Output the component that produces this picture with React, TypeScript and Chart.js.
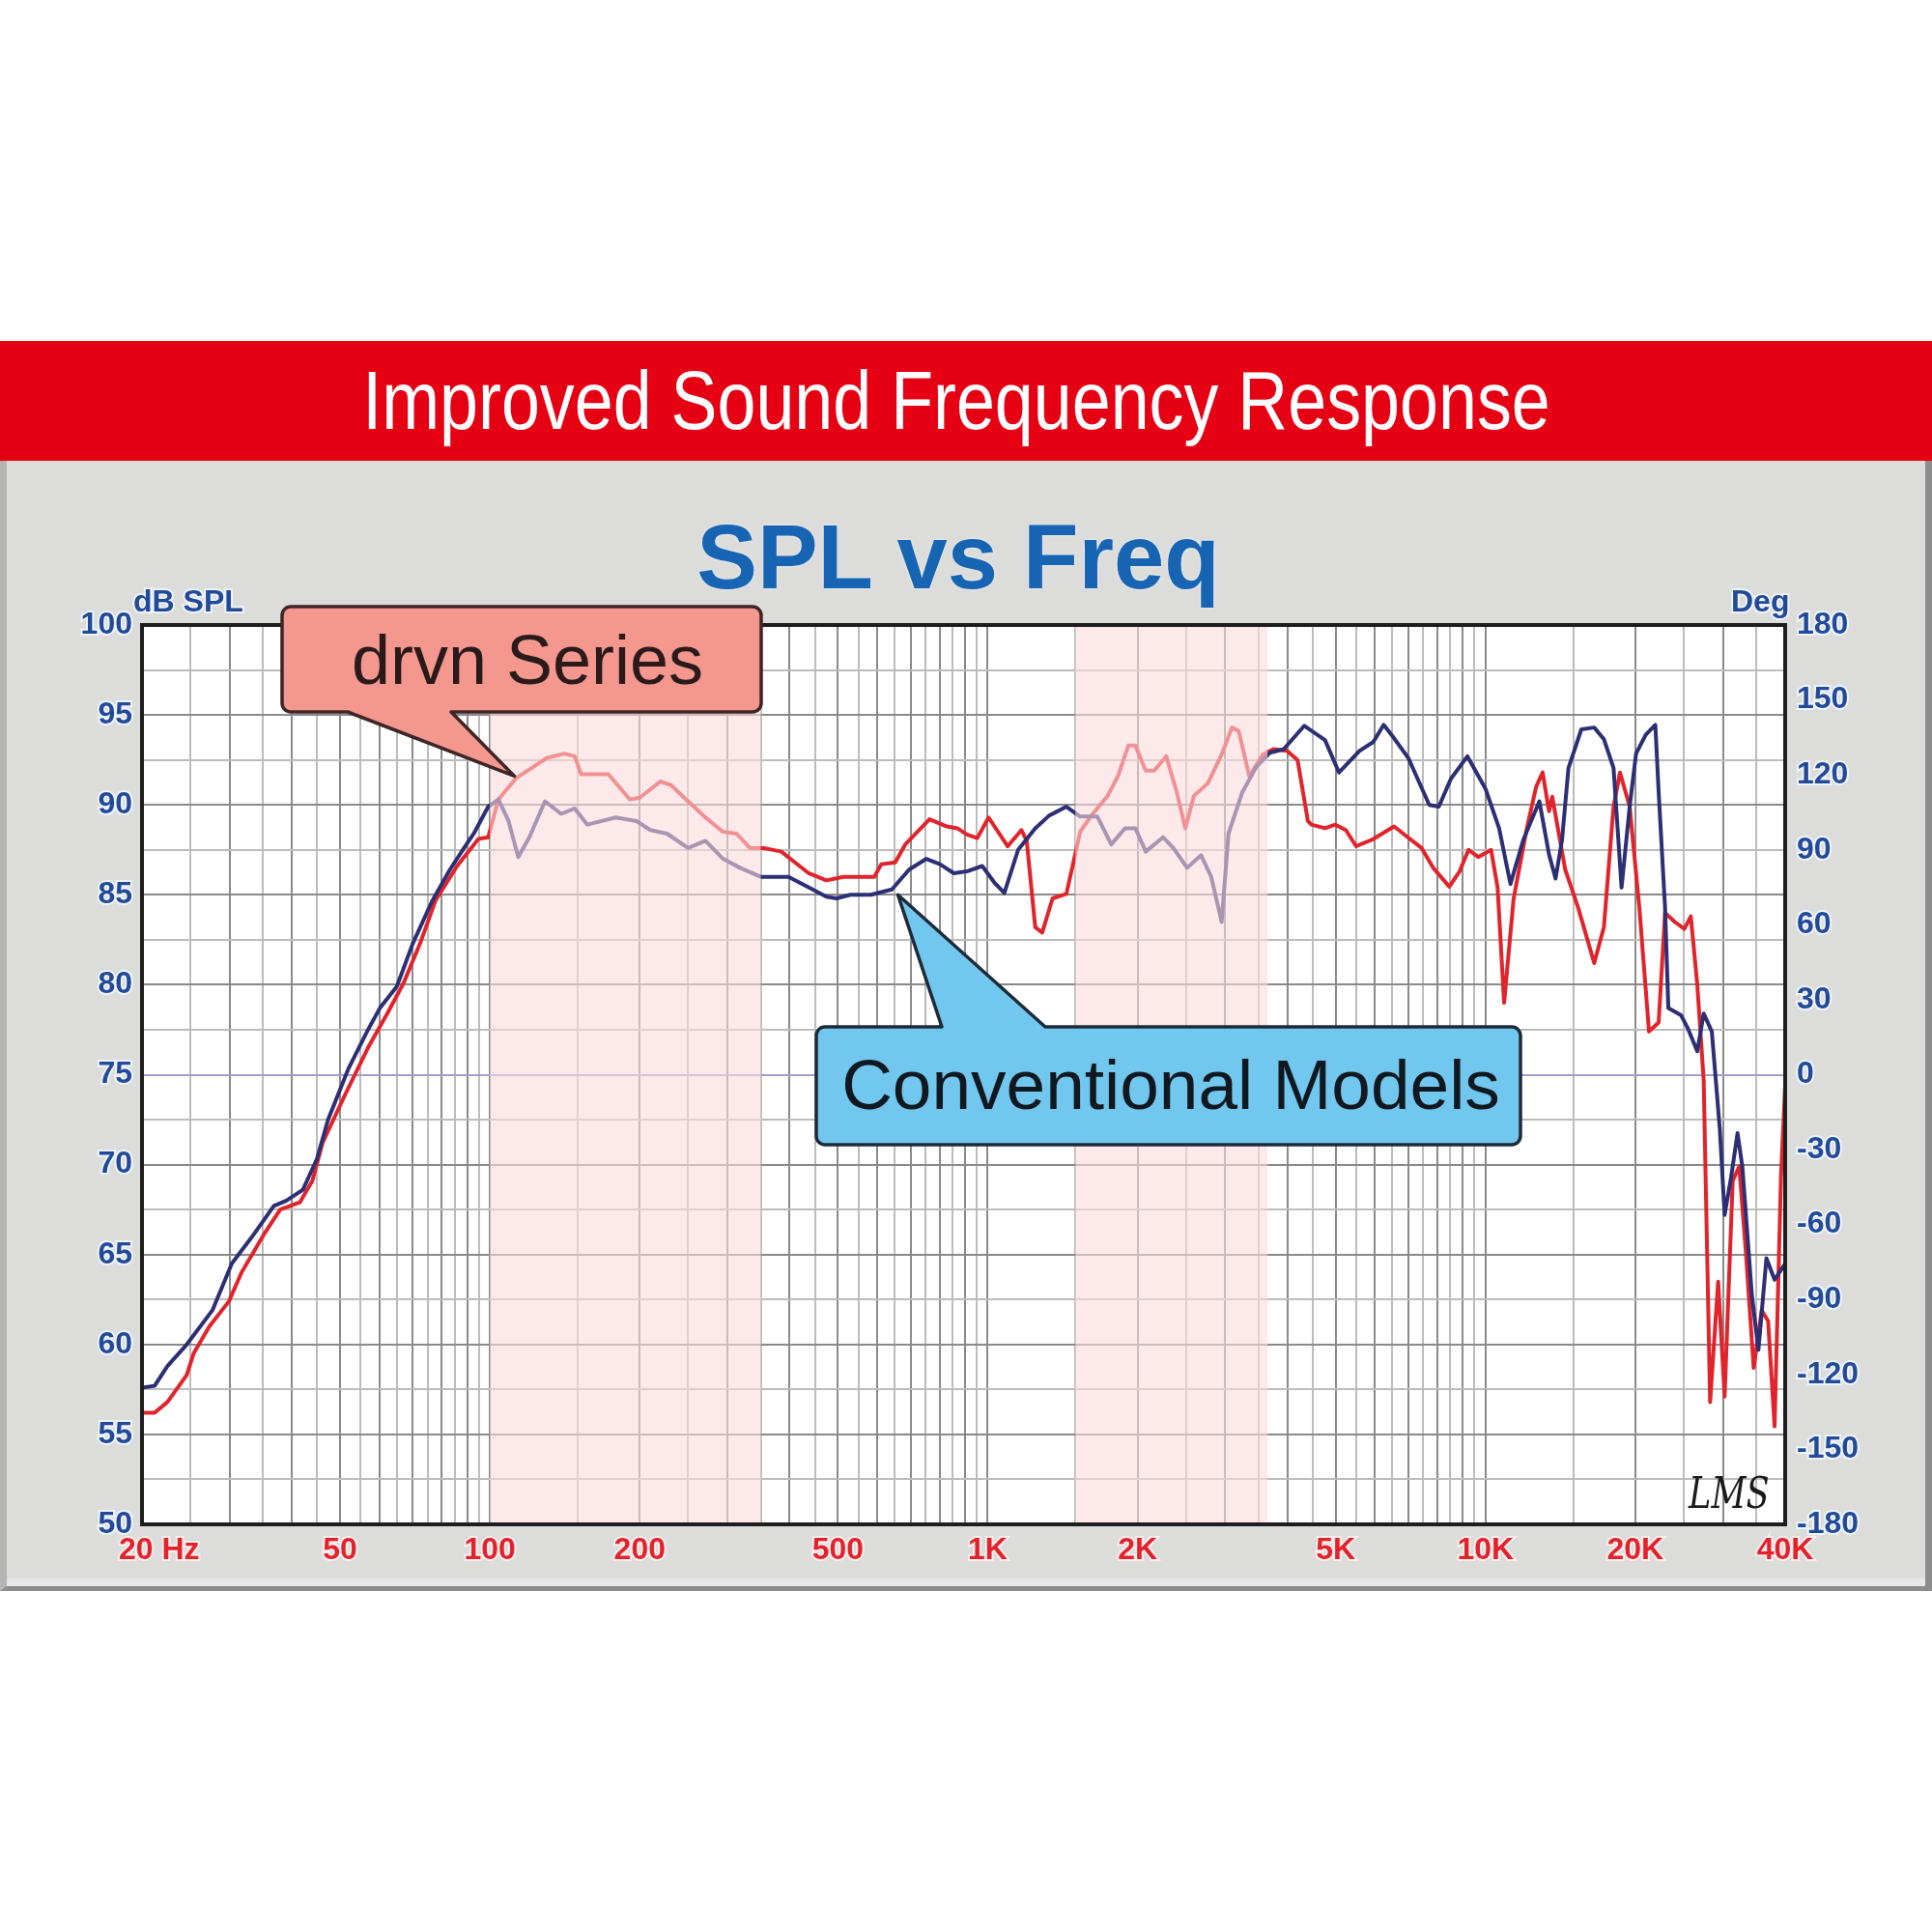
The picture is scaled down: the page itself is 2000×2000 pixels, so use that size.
import { Chart, registerables } from 'chart.js'
import { useEffect, useRef } from 'react'

Chart.register(...registerables)

// x axis labels (log frequency)
const xTickValues = [20, 50, 100, 200, 500, 1000, 2000, 5000, 10000, 20000, 40000]
const xTickLabels = ['20 Hz', '50', '100', '200', '500', '1K', '2K', '5K', '10K', '20K', '40K']

// shaded frequency bands (Hz)
const bandStart = [100, 1500]
const bandEnd = [350, 3650]

// drvn Series (red)
const drvnFreq = [
	20, 21.2, 22.5, 24.6, 25.4, 27.3, 29.9, 31.7, 35.3, 37.9,
	41.5, 44, 46.1, 51.2, 56.9, 62.2, 67.1, 72.4, 77.8, 85.9,
	94.8, 99.2, 104, 113, 122, 130, 141, 148, 152.5, 173,
	191, 200, 220, 231, 250, 271, 294, 313, 333, 355,
	385, 410, 437, 474, 513, 556, 592, 611, 652, 683,
	764, 828, 869, 908, 953, 1004, 1097, 1169, 1198, 1246,
	1287, 1350, 1439, 1534, 1609, 1742, 1827, 1917, 1980, 2077,
	2160, 2284, 2398, 2494, 2596, 2768, 2951, 3095, 3194, 3353,
	3572, 3749, 3993, 4192, 4398, 4470, 4760, 4994, 5241, 5498,
	5954, 6554, 6980, 7444, 7850, 8459, 8872, 9247, 9669, 10262,
	10578, 10900, 11393, 12088, 12640, 13025, 13417, 13620, 14463, 15348,
	16538, 17294, 18083, 18631, 19485, 20376, 21308, 22280, 22948, 23996,
	25090, 25854, 26640, 27438, 28270, 29340, 30230, 31380, 32340, 33320,
	34580, 35880, 36970, 38090, 39230, 40000
]
const drvnSpl = [
	56.2, 56.2, 56.8, 58.3, 59.5, 61.0, 62.4, 64.0, 66.2, 67.5,
	67.9, 69.1, 71.2, 73.9, 76.5, 78.4, 80.1, 82.3, 84.7, 86.6,
	88.1, 88.2, 90.3, 91.5, 92.1, 92.6, 92.85, 92.7, 91.7, 91.7,
	90.3, 90.4, 91.3, 91.1, 90.2, 89.3, 88.5, 88.4, 87.6, 87.6,
	87.4, 86.8, 86.2, 85.8, 86.0, 86.0, 86.0, 86.7, 86.8, 87.8,
	89.2, 88.8, 88.7, 88.35, 88.15, 89.3, 87.7, 88.6, 88.0, 83.2,
	82.9, 84.8, 85.05, 88.5, 89.35, 90.5, 91.6, 93.3, 93.3, 91.9,
	91.9, 92.7, 90.7, 88.7, 90.5, 91.2, 92.8, 94.3, 94.1, 91.6,
	92.8, 93.1, 93.0, 92.5, 89.1, 88.9, 88.7, 88.9, 88.6, 87.7,
	88.1, 88.8, 88.2, 87.6, 86.5, 85.45, 86.3, 87.5, 87.1, 87.5,
	85.4, 79.0, 84.8, 88.6, 91.0, 91.8, 89.65, 90.45, 86.4, 84.3,
	81.2, 83.2, 89.9, 91.8, 89.9, 84.3, 77.4, 77.9, 84.0, 83.5,
	83.1, 83.8, 80.0, 74.7, 56.8, 63.5, 57.1, 69.1, 69.9, 65.3,
	58.7, 61.9, 61.3, 55.45, 69.3, 74.4
]

// Conventional Models (navy)
const convFreq = [
	20, 21.2, 22.5, 24.6, 27.7, 30.3, 33.3, 36.8, 39, 42.1,
	44.9, 47.3, 51.9, 56.9, 60.1, 65, 70, 76.7, 83.1, 88.7,
	92.8, 99.2, 104, 109, 114, 120, 129, 139, 148, 157,
	179, 197, 210, 227, 250, 271, 294, 318, 350, 373,
	398, 431, 474, 497, 530, 583, 642, 695, 753, 802,
	855, 908, 975, 1030, 1080, 1151, 1246, 1328, 1439, 1534,
	1661, 1771, 1888, 1980, 2077, 2250, 2360, 2516, 2683, 2812,
	2951, 3046, 3247, 3462, 3690, 3933, 4326, 4760, 5079, 5582,
	5954, 6245, 6554, 7000, 7710, 8060, 8520, 9200, 10000, 10650,
	11225, 11910, 12830, 13417, 13830, 14250, 14680, 15580, 16538, 17294,
	18083, 18766, 19485, 20070, 20990, 21940, 22280, 22948, 23300, 24720,
	25470, 26640, 27438, 28490, 29560, 30230, 31150, 32090, 32810, 34300,
	35350, 36680, 38090, 40000
]
const convSpl = [
	57.6, 57.7, 58.8, 60.0, 61.9, 64.5, 66.0, 67.7, 68.0, 68.6,
	70.3, 72.5, 75.3, 77.5, 78.7, 79.9, 82.3, 84.7, 86.4, 87.6,
	88.4, 89.9, 90.3, 89.1, 87.1, 88.2, 90.2, 89.5, 89.8, 88.9,
	89.3, 89.1, 88.6, 88.4, 87.6, 88.0, 87.0, 86.5, 86.0, 86.0,
	86.0, 85.5, 84.9, 84.8, 85.0, 85.0, 85.3, 86.4, 87.0, 86.7,
	86.2, 86.3, 86.6, 85.7, 85.1, 87.5, 88.7, 89.4, 89.9, 89.35,
	89.35, 87.8, 88.7, 88.7, 87.4, 88.2, 87.6, 86.5, 87.2, 86.0,
	83.5, 88.4, 90.7, 92.1, 92.9, 93.1, 94.4, 93.6, 91.8, 93.0,
	93.5, 94.45, 93.7, 92.6, 90.0, 89.9, 91.45, 92.7, 90.9, 88.7,
	85.6, 88.05, 90.2, 87.25, 85.9, 88.05, 92.05, 94.2, 94.3, 93.65,
	92.05, 85.4, 89.9, 92.85, 93.9, 94.45, 90.7, 84.3, 78.7, 78.3,
	77.6, 76.3, 78.4, 77.4, 72.0, 67.2, 69.3, 71.75, 69.9, 62.7,
	59.7, 64.8, 63.6, 64.5
]

// where the callout pointers touch the curves (Hz, dB)
const drvnCallout = { f: 112, db: 91.6, text: 'drvn Series' }
const convCallout = { f: 660, db: 85, text: 'Conventional Models' }

// grid lines at every half step of each decade: 20, 25, 30 ... 35K, 40K
const gridFreqs: number[] = []
for (const dec of [10, 100, 1000, 10000]) {
	for (let m = 1; m < 10; m += 0.5) {
		const v = Math.round(dec * m)
		if (v >= 20 && v <= 40000) gridFreqs.push(v)
	}
}

const FONT = '"Liberation Sans", Arial, sans-serif'
const AXIS_BLUE = '#234a98'

function isWholeStep(v: number) {
	const p = 10 ** Math.floor(Math.log10(v) + 1e-9)
	const m = v / p
	return Math.abs(m - Math.round(m)) < 1e-6
}

function calloutPath(
	ctx: CanvasRenderingContext2D,
	l: number, t: number, r: number, b: number, rad: number,
	side: 'top' | 'bottom', ax: number, bx: number, tx: number, ty: number
) {
	ctx.beginPath()
	ctx.moveTo(l + rad, t)
	if (side === 'top') {
		ctx.lineTo(ax, t)
		ctx.lineTo(tx, ty)
		ctx.lineTo(bx, t)
	}
	ctx.arcTo(r, t, r, b, rad)
	ctx.arcTo(r, b, l, b, rad)
	if (side === 'bottom') {
		ctx.lineTo(bx, b)
		ctx.lineTo(tx, ty)
		ctx.lineTo(ax, b)
	}
	ctx.arcTo(l, b, l, t, rad)
	ctx.arcTo(l, t, r, t, rad)
	ctx.closePath()
}

const decor = {
	id: 'decor',
	beforeDraw(chart: any) {
		const { ctx, chartArea: a } = chart
		ctx.save()
		ctx.fillStyle = '#ffffff'
		ctx.fillRect(a.left, a.top, a.width, a.height)
		ctx.restore()
	},
	afterDatasetsDraw(chart: any) {
		const { ctx, chartArea: a, scales } = chart
		ctx.save()
		// pale pink bands lie over the curves
		ctx.fillStyle = 'rgba(252, 218, 218, 0.6)'
		bandStart.forEach((s, i) => {
			const x0 = scales.x.getPixelForValue(s)
			const x1 = scales.x.getPixelForValue(bandEnd[i])
			ctx.fillRect(x0, a.top, x1 - x0, a.height)
		})
		ctx.strokeStyle = '#1e1e1e'
		ctx.lineWidth = 4
		ctx.strokeRect(a.left, a.top, a.width, a.height)
		ctx.restore()
	},
	afterDraw(chart: any) {
		const { ctx, scales } = chart
		const x = scales.x
		const y = scales.y
		ctx.save()

		// unit labels
		ctx.fillStyle = AXIS_BLUE
		ctx.font = `bold 32px ${FONT}`
		ctx.textBaseline = 'alphabetic'
		ctx.textAlign = 'left'
		ctx.strokeStyle = 'rgba(240,246,255,0.9)'
		ctx.lineWidth = 4
		ctx.strokeText('dB SPL', 138, 156)
		ctx.fillText('dB SPL', 138, 156)
		ctx.strokeText('Deg', 1792, 156)
		ctx.fillText('Deg', 1792, 156)

		ctx.lineJoin = 'round'
		ctx.lineWidth = 3.5

		// drvn Series callout
		const t1x = x.getPixelForValue(drvnCallout.f)
		const t1y = y.getPixelForValue(drvnCallout.db)
		calloutPath(ctx, 292, 151, 788, 260, 9, 'bottom', 360, 467, t1x, t1y)
		ctx.fillStyle = '#f4978e'
		ctx.fill()
		ctx.strokeStyle = '#3f2626'
		ctx.stroke()
		ctx.fillStyle = '#2a1a1a'
		ctx.font = `72px ${FONT}`
		ctx.textAlign = 'center'
		ctx.fillText(drvnCallout.text, 546, 231)

		// Conventional Models callout
		const t2x = x.getPixelForValue(convCallout.f)
		const t2y = y.getPixelForValue(convCallout.db)
		calloutPath(ctx, 845, 586, 1574, 708, 9, 'top', 975, 1082, t2x, t2y)
		ctx.fillStyle = '#72c7ef'
		ctx.fill()
		ctx.strokeStyle = '#1d2b38'
		ctx.stroke()
		ctx.fillStyle = '#101820'
		ctx.font = `73px ${FONT}`
		ctx.fillText(convCallout.text, 1212, 671)

		// LMS mark
		ctx.save()
		ctx.translate(1748, 1084)
		ctx.scale(0.8, 1)
		ctx.fillStyle = '#1a1a1a'
		ctx.font = 'italic 44px "DejaVu Serif", serif'
		ctx.textAlign = 'left'
		ctx.fillText('LMS', 0, 0)
		ctx.restore()

		ctx.restore()
	}
}

function SplChart() {
	const canvasRef = useRef<HTMLCanvasElement | null>(null)

	useEffect(() => {
		if (!canvasRef.current) return
		const tickFont = { family: FONT, size: 32, weight: 'bold' as const }
		const chart = new Chart(canvasRef.current, {
			type: 'line',
			data: {
				datasets: [
					{
						label: 'Conventional Models',
						data: convFreq.map((f, i) => ({ x: f, y: convSpl[i] })),
						borderColor: '#2c2f73',
						borderWidth: 4,
						borderJoinStyle: 'round',
						pointRadius: 0,
						tension: 0,
						order: 0,
						yAxisID: 'y'
					},
					{
						label: 'drvn Series',
						data: drvnFreq.map((f, i) => ({ x: f, y: drvnSpl[i] })),
						borderColor: '#e1242b',
						borderWidth: 4,
						borderJoinStyle: 'round',
						pointRadius: 0,
						tension: 0,
						order: 1,
						yAxisID: 'y'
					}
				]
			},
			options: {
				responsive: true,
				maintainAspectRatio: false,
				animation: false,
				events: [],
				layout: { padding: { top: 170, left: 0, right: 0, bottom: 0 } },
				plugins: {
					legend: { display: false },
					tooltip: { enabled: false }
				},
				scales: {
					x: {
						type: 'logarithmic',
						min: 20,
						max: 40000,
						afterBuildTicks: (s: any) => {
							s.ticks = gridFreqs.map((value) => ({ value }))
						},
						afterFit: (s: any) => {
							s.height = 67
						},
						border: { display: false },
						grid: {
							drawTicks: false,
							lineWidth: 2,
							color: (c: any) => (isWholeStep(c.tick.value) ? '#8a8a8a' : '#bcbcbc')
						},
						ticks: {
							autoSkip: false,
							maxRotation: 0,
							minRotation: 0,
							padding: 8,
							color: '#e2232b',
							textStrokeColor: 'rgba(255,238,238,0.9)',
							textStrokeWidth: 4,
							font: tickFont,
							callback: (v: any) => {
								const i = xTickValues.indexOf(Number(v))
								if (i < 0) return ''
								return i === 0 ? '    ' + xTickLabels[0] : xTickLabels[i]
							}
						}
					},
					y: {
						type: 'linear',
						position: 'left',
						min: 50,
						max: 100,
						afterFit: (s: any) => {
							s.width = 147
						},
						border: { display: false },
						grid: {
							drawTicks: false,
							lineWidth: 2,
							color: (c: any) =>
								c.tick.value === 75 ? '#a59dd2' : c.tick.value % 5 === 0 ? '#8a8a8a' : '#bcbcbc'
						},
						ticks: {
							stepSize: 2.5,
							autoSkip: false,
							padding: 10,
							color: AXIS_BLUE,
							textStrokeColor: 'rgba(240,246,255,0.9)',
							textStrokeWidth: 4,
							font: tickFont,
							callback: (v: any) => (Number(v) % 5 === 0 ? String(v) : '')
						}
					},
					y1: {
						type: 'linear',
						position: 'right',
						min: -180,
						max: 180,
						afterFit: (s: any) => {
							s.width = 152
						},
						border: { display: false },
						grid: { drawOnChartArea: false, drawTicks: false },
						ticks: {
							stepSize: 30,
							autoSkip: false,
							padding: 12,
							color: AXIS_BLUE,
							textStrokeColor: 'rgba(240,246,255,0.9)',
							textStrokeWidth: 4,
							font: tickFont
						}
					}
				}
			},
			plugins: [decor]
		})

		return () => {
			chart.destroy()
		}
	}, [])

	return <canvas ref={canvasRef} />
}

export default function App() {
	return (
		<div style={{ position: 'absolute', left: 0, top: 0, width: 2000, height: 2000, background: '#fff', overflow: 'hidden' }}>
			{/* red banner */}
			<div style={{ position: 'absolute', left: 0, top: 353, width: 2000, height: 124, background: '#e60014' }}>
				<div
					style={{
						position: 'absolute',
						left: -10,
						top: 18,
						width: 2000,
						textAlign: 'center',
						color: '#fff',
						fontFamily: FONT,
						fontSize: 86,
						lineHeight: 1,
						transform: 'scaleX(0.835)',
						transformOrigin: '1000px 0'
					}}>
					Improved Sound Frequency Response
				</div>
			</div>
			{/* grey panel */}
			<div
				style={{
					position: 'absolute',
					left: 0,
					top: 477,
					width: 2000,
					height: 1170,
					boxSizing: 'border-box',
					background: '#dcdcdb',
					borderLeft: '7px solid #b5b5b5',
					borderRight: '7px solid #8c8c8c',
					borderBottom: '5px solid #8c8c8c',
					boxShadow: 'inset 0 -8px 0 #e6e6e6'
				}}
			/>
			<div style={{ position: 'absolute', left: 0, top: 477, width: 2000, height: 1168 }}>
				<SplChart />
			</div>
			<div
				style={{
					position: 'absolute',
					left: -8,
					top: 530,
					width: 2000,
					textAlign: 'center',
					color: '#1764b2',
					fontFamily: FONT,
					fontWeight: 'bold',
					fontSize: 94,
					lineHeight: 1,
					textShadow: '0 0 3px rgba(240,246,255,0.9)'
				}}>
				SPL vs Freq
			</div>
		</div>
	)
}
